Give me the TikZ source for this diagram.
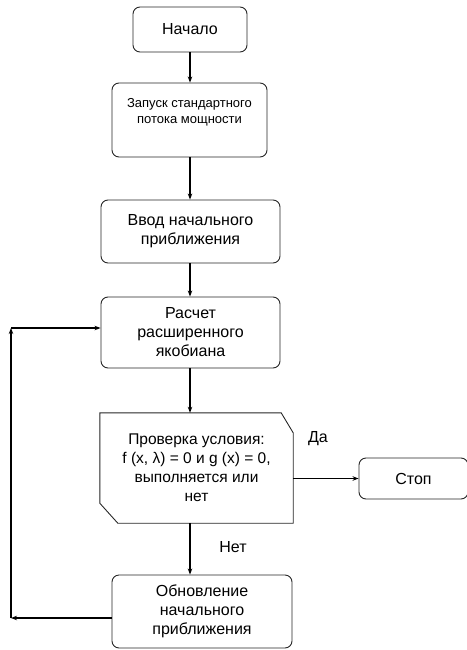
\documentclass[tikz,border=0pt]{standalone}
\usepackage{fontspec}
\setmainfont{Liberation Sans}
\usetikzlibrary{arrows.meta}

\begin{document}
\begin{tikzpicture}[
    x=1pt,
    y=1pt,
    block/.style={draw=black!85, line width=0.9pt, rounded corners=7pt, align=center,
        font=\fontsize{16}{19}\selectfont, inner sep=0pt},
    flow/.style={line width=1.7pt, -{Stealth[length=6pt,width=4.5pt]}},
]

\useasboundingbox (0,0) rectangle (466,-650);

% Blocks
\node[block, minimum width=114, minimum height=45] (start) at (190,-29.5) {Начало};
\node[block, minimum width=155, minimum height=74, font=\fontsize{13}{16.5}\selectfont]
    (launch) at (189.5,-120) {Запуск стандартного\\потока мощности\\[2pt]\mbox{}};
\node[block, minimum width=179, minimum height=63] (init) at (190.5,-231.5) {Ввод начального\\приближения};
\node[block, minimum width=179, minimum height=71] (calc) at (190.5,-332.5) {Расчет\\расширенного\\якобиана};

% Check (cut corners)
\node[align=center, font=\fontsize{15.5}{19}\selectfont, inner sep=0pt,
    minimum width=193, minimum height=110] (check) at (196.5,-468)
    {Проверка условия:\\f (x, λ) = 0 и g (x) = 0,\\выполняется или\\нет};
\draw[black!85, line width=0.9pt] (check.north west) -- ([xshift=-12]check.north east)
    -- ([yshift=-20]check.north east) -- (check.south east)
    -- ([xshift=18]check.south west) -- ([yshift=20]check.south west) -- cycle;

\node[block, minimum width=109, minimum height=41] (stop) at (413.5,-478.5) {Стоп};
\node[block, minimum width=180, minimum height=73] (update) at (202,-611.5) {Обновление\\начального\\приближения};

% Labels
\node[font=\fontsize{16}{19}\selectfont] (yes) at (318,-439) {Да};
\node[font=\fontsize{16}{19}\selectfont] (no) at (233,-547) {Нет};

% Arrows
\draw[flow] (start.south) -- (start.south |- launch.north);
\draw[flow] (start.south |- launch.south) -- (start.south |- init.north);
\draw[flow] (start.south |- init.south) -- (start.south |- calc.north);
\draw[flow] (start.south |- calc.south) -- (start.south |- check.north);
\draw[flow] (start.south |- check.south) -- (start.south |- update.north);
\draw[flow] (check.east |- stop.west) -- (stop.west);

% Loop back
\coordinate (c1) at (11,-618);
\coordinate (c2) at (11,-328);
\draw[flow] (update.west |- c1) -- (c1);
\draw[flow] (c1) -- (c2);
\draw[flow] (c2) -- (c2 -| calc.west);

\end{tikzpicture}
\end{document}
